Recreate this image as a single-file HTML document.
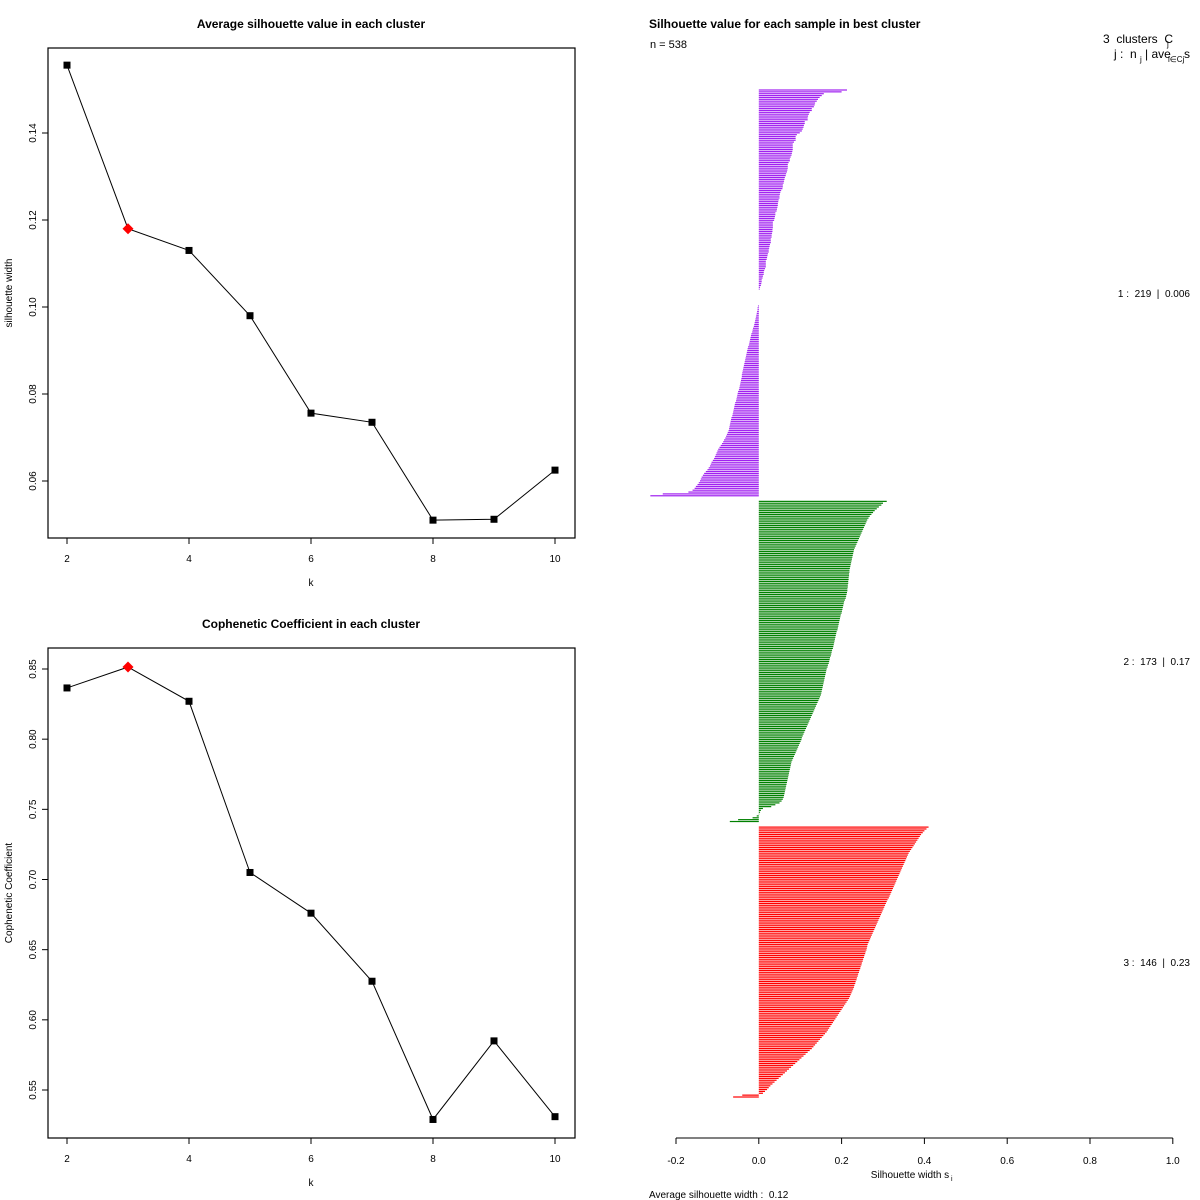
<!DOCTYPE html>
<html><head><meta charset="utf-8"><style>
html,body{margin:0;padding:0;background:#fff;}
svg{display:block;font-family:"Liberation Sans",Arial,sans-serif;}
text{white-space:pre;}
</style></head><body>
<svg id="chart" width="1200" height="1200" viewBox="0 0 1200 1200" xmlns="http://www.w3.org/2000/svg">
<rect width="1200" height="1200" fill="#fff"/>
<g id="top"></g><g id="bot"></g><g id="sil"></g>
</svg>
<script>
const kVals = [2,3,4,5,6,7,8,9,10];
const silAvg = [0.1556,0.118,0.113,0.098,0.0756,0.0735,0.051,0.0512,0.0625];
const copheneticVals = [0.8365,0.8514,0.827,0.705,0.676,0.6275,0.529,0.585,0.531];
const bestK = 3;
const silTicks = [0.06,0.08,0.10,0.12,0.14];
const copTicks = [0.55,0.60,0.65,0.70,0.75,0.80,0.85];
const kTicks = [2,4,6,8,10];
const cluster1 = [0.213,0.200,0.157,0.152,0.147,0.143,0.140,0.136,0.135,0.133,
0.128,0.128,0.123,0.121,0.119,0.118,0.118,0.111,0.111,0.109,
0.108,0.106,0.104,0.099,0.092,0.089,0.089,0.089,0.085,0.082,
0.082,0.082,0.082,0.081,0.080,0.079,0.077,0.075,0.075,0.072,
0.070,0.070,0.070,0.069,0.068,0.066,0.065,0.063,0.062,0.061,
0.060,0.058,0.058,0.057,0.054,0.052,0.051,0.050,0.050,0.048,
0.047,0.046,0.046,0.045,0.044,0.043,0.040,0.040,0.039,0.038,
0.037,0.034,0.034,0.034,0.034,0.033,0.033,0.032,0.031,0.031,
0.029,0.029,0.029,0.027,0.026,0.025,0.024,0.024,0.022,0.021,
0.020,0.019,0.017,0.017,0.017,0.017,0.015,0.013,0.012,0.012,
0.010,0.009,0.007,0.007,0.006,0.005,0.003,0.002,
0,0,0,0,0,0,0,0,
-0.002,-0.003,-0.003,-0.004,-0.005,-0.006,-0.007,-0.008,-0.009,-0.010,
-0.011,-0.012,-0.014,-0.015,-0.016,-0.018,-0.019,-0.020,-0.021,-0.022,
-0.023,-0.024,-0.026,-0.027,-0.028,-0.029,-0.030,-0.031,-0.032,-0.033,
-0.034,-0.035,-0.036,-0.037,-0.038,-0.039,-0.040,-0.041,-0.041,-0.042,
-0.043,-0.044,-0.045,-0.046,-0.047,-0.048,-0.050,-0.051,-0.052,-0.053,
-0.054,-0.055,-0.057,-0.058,-0.059,-0.060,-0.061,-0.062,-0.063,-0.064,
-0.066,-0.067,-0.068,-0.069,-0.070,-0.071,-0.072,-0.073,-0.075,-0.077,
-0.079,-0.081,-0.084,-0.086,-0.089,-0.092,-0.095,-0.098,-0.100,-0.102,
-0.104,-0.106,-0.108,-0.111,-0.114,-0.116,-0.118,-0.121,-0.124,-0.128,
-0.132,-0.135,-0.138,-0.140,-0.142,-0.145,-0.148,-0.152,-0.155,-0.160,
-0.170,-0.232,-0.262];
const cluster2 = [0.309,0.300,0.296,0.290,0.285,0.280,0.276,0.272,0.268,0.265,
0.262,0.260,0.258,0.256,0.254,0.252,0.250,0.248,0.246,0.244,
0.242,0.240,0.238,0.236,0.234,0.232,0.230,0.229,0.228,0.227,
0.226,0.225,0.224,0.223,0.222,0.221,0.220,0.219,0.219,0.218,
0.218,0.217,0.217,0.216,0.216,0.215,0.215,0.214,0.214,0.213,
0.212,0.211,0.210,0.208,0.206,0.205,0.204,0.203,0.202,0.201,
0.200,0.198,0.197,0.196,0.195,0.194,0.193,0.192,0.191,0.190,
0.188,0.187,0.186,0.185,0.184,0.183,0.182,0.181,0.180,0.179,
0.177,0.176,0.175,0.174,0.172,0.171,0.170,0.169,0.167,0.166,
0.164,0.163,0.162,0.161,0.160,0.159,0.158,0.157,0.156,0.155,
0.154,0.153,0.152,0.151,0.150,0.148,0.146,0.144,0.142,0.140,
0.138,0.136,0.134,0.132,0.130,0.128,0.126,0.124,0.122,0.120,
0.118,0.116,0.114,0.112,0.110,0.108,0.106,0.104,0.103,0.101,
0.099,0.097,0.095,0.093,0.091,0.089,0.087,0.085,0.083,0.081,
0.079,0.078,0.077,0.076,0.075,0.074,0.073,0.072,0.071,0.070,
0.069,0.068,0.067,0.066,0.065,0.064,0.063,0.062,0.061,0.060,
0.058,0.055,0.050,0.040,0.030,0.010,0.005,0.003,0.001,
-0.005,-0.015,-0.050,-0.070];
const cluster3 = [0.410,0.405,0.400,0.396,0.392,0.389,0.386,0.383,0.380,0.377,
0.374,0.371,0.368,0.365,0.362,0.360,0.358,0.356,0.354,0.352,
0.350,0.348,0.346,0.344,0.342,0.340,0.338,0.336,0.334,0.332,
0.330,0.328,0.326,0.324,0.322,0.320,0.318,0.316,0.314,0.311,
0.309,0.307,0.305,0.303,0.301,0.299,0.297,0.295,0.293,0.291,
0.289,0.287,0.285,0.283,0.281,0.279,0.277,0.275,0.273,0.271,
0.269,0.267,0.265,0.263,0.262,0.261,0.260,0.258,0.257,0.255,
0.254,0.252,0.251,0.249,0.248,0.246,0.245,0.243,0.242,0.240,
0.239,0.237,0.236,0.234,0.233,0.231,0.230,0.228,0.226,0.224,
0.222,0.220,0.218,0.215,0.212,0.209,0.206,0.203,0.200,0.197,
0.194,0.191,0.188,0.185,0.182,0.179,0.176,0.173,0.170,0.167,
0.164,0.160,0.156,0.152,0.148,0.144,0.140,0.136,0.132,0.128,
0.123,0.118,0.113,0.108,0.103,0.098,0.093,0.088,0.083,0.078,
0.073,0.068,0.063,0.058,0.053,0.048,0.043,0.038,0.033,0.028,
0.024,0.020,0.015,0.010,-0.040,-0.062];
const clusterColors = ["#A020F0","#008000","#FF0000"];
const clusterLabels = ["1 :  219  |  0.006","2 :  173  |  0.17","3 :  146  |  0.23"];
const silTicksX = [-0.2,0,0.2,0.4,0.6,0.8,1.0];

const NS="http://www.w3.org/2000/svg";
function mk(parent,tag,attrs,text){const e=document.createElementNS(NS,tag);for(const k in attrs)e.setAttribute(k,attrs[k]);if(text!==undefined)e.textContent=text;parent.appendChild(e);return e;}

function linePanel(g,vals,ticks,yMin,yMax,pMin,pMax,fTop,fBot,title,ylab,prefix){
  const L=48,R=575;
  const xs=k=>67+(k-2)*61;
  const ys=v=>pMin+(v-yMin)/(yMax-yMin)*(pMax-pMin);
  let e;
  e=mk(g,'rect',{x:L,y:fTop,width:R-L,height:fBot-fTop,fill:'none',stroke:'#000','stroke-width':1.2});
  
  
  e=mk(g,'text',{x:311,y:fTop-20,'text-anchor':'middle','font-size':12,'font-weight':'bold'},title);
  
  
  kTicks.forEach(k=>{
    e=mk(g,'line',{x1:xs(k),x2:xs(k),y1:fBot,y2:fBot+6,stroke:'#000'});
    
    
    e=mk(g,'text',{x:xs(k),y:fBot+24,'text-anchor':'middle','font-size':10},String(k));
    
    
  });
  ticks.forEach(t=>{
    const y=ys(t);
    e=mk(g,'line',{x1:L-6,x2:L,y1:y,y2:y,stroke:'#000'});
    
    
    e=mk(g,'text',{x:0,y:0,'text-anchor':'middle','font-size':10,transform:`translate(36,${y}) rotate(-90)`},t.toFixed(2));
    
    
  });
  e=mk(g,'text',{x:311,y:fBot+48,'text-anchor':'middle','font-size':10},'k');
  
  
  e=mk(g,'text',{x:0,y:0,'text-anchor':'middle','font-size':10,transform:`translate(12,${(fTop+fBot)/2}) rotate(-90)`},ylab);
  
  
  const pts=kVals.map((k,i)=>xs(k)+','+ys(vals[i])).join(' ');
  e=mk(g,'polyline',{points:pts,fill:'none',stroke:'#000','stroke-width':1});
  
  
  kVals.forEach((k,i)=>{
    const x=xs(k),y=ys(vals[i]);
    if(k===bestK){
      e=mk(g,'polygon',{points:`${x},${y-5.5} ${x+5.5},${y} ${x},${y+5.5} ${x-5.5},${y}`,fill:'#f00'});
    } else {
      e=mk(g,'rect',{x:x-3.5,y:y-3.5,width:7,height:7,fill:'#000'});
    }
    
    
  });
}
linePanel(document.getElementById('top'),silAvg,silTicks,0.06,0.14,481,133,48,538,'Average silhouette value in each cluster','silhouette width','avg-silhouette');
linePanel(document.getElementById('bot'),copheneticVals,copTicks,0.55,0.85,1090,669,648,1138,'Cophenetic Coefficient in each cluster','Cophenetic Coefficient','cophenetic');

(function(){
  const g=document.getElementById('sil');
  const sx=v=>758.8+v*414;
  const clusters=[cluster1,cluster2,cluster3];
  const total=cluster1.length+cluster2.length+cluster3.length+4;
  const y0=90,y1=1097,step=(y1-y0)/(total-1);
  let row=0,e;
  const labelYs=[293,661,962];
  clusters.forEach((c,ci)=>{
    c.forEach(v=>{
      const y=y0+row*step;
      if(v!==0){
        const a=sx(0),b=sx(v);
        e=mk(g,'rect',{x:Math.min(a,b),y:y-0.6,width:Math.abs(b-a),height:1.2,fill:clusterColors[ci]});
        
        
      }
      row++;
    });
    row+=2;
    e=mk(g,'text',{x:1190,y:labelYs[ci]+4,'text-anchor':'end','font-size':10},clusterLabels[ci]);
    
    
  });
  const ay=1138;
  e=mk(g,'line',{x1:sx(-0.2),x2:sx(1.0),y1:ay,y2:ay,stroke:'#000'});
  
  
  silTicksX.forEach(t=>{
    e=mk(g,'line',{x1:sx(t),x2:sx(t),y1:ay,y2:ay+6,stroke:'#000'});
    
    
    e=mk(g,'text',{x:sx(t),y:ay+26,'text-anchor':'middle','font-size':10},t.toFixed(1));
    
    
  });
  e=mk(g,'text',{x:649,y:28,'font-size':12,'font-weight':'bold'},'Silhouette value for each sample in best cluster');
  
  
  e=mk(g,'text',{x:650,y:48,'font-size':11},'n = 538');
  
  
  e=mk(g,'text',{x:1103,y:43,'font-size':12},'3  clusters  C');
  
  
  e=mk(g,'text',{x:1167,y:47,'font-size':8},'j');
  
  
  e=mk(g,'text',{x:1114,y:58,'font-size':12},'j :  n');
  
  
  e=mk(g,'text',{x:1140,y:62,'font-size':8},'j');
  
  
  e=mk(g,'text',{x:1145,y:58,'font-size':12},'| ave');
  
  
  e=mk(g,'text',{x:1168,y:62,'font-size':8},'i∈Cj');
  
  
  e=mk(g,'text',{x:1184,y:58,'font-size':12},'s');
  
  
  e=mk(g,'text',{x:910,y:1178,'text-anchor':'middle','font-size':10},'Silhouette width s');
  
  
  e=mk(g,'text',{x:951,y:1181,'font-size':7},'i');
  
  
  e=mk(g,'text',{x:649,y:1198,'font-size':10},'Average silhouette width :  0.12');
  
  
})();
</script>
</body></html>
